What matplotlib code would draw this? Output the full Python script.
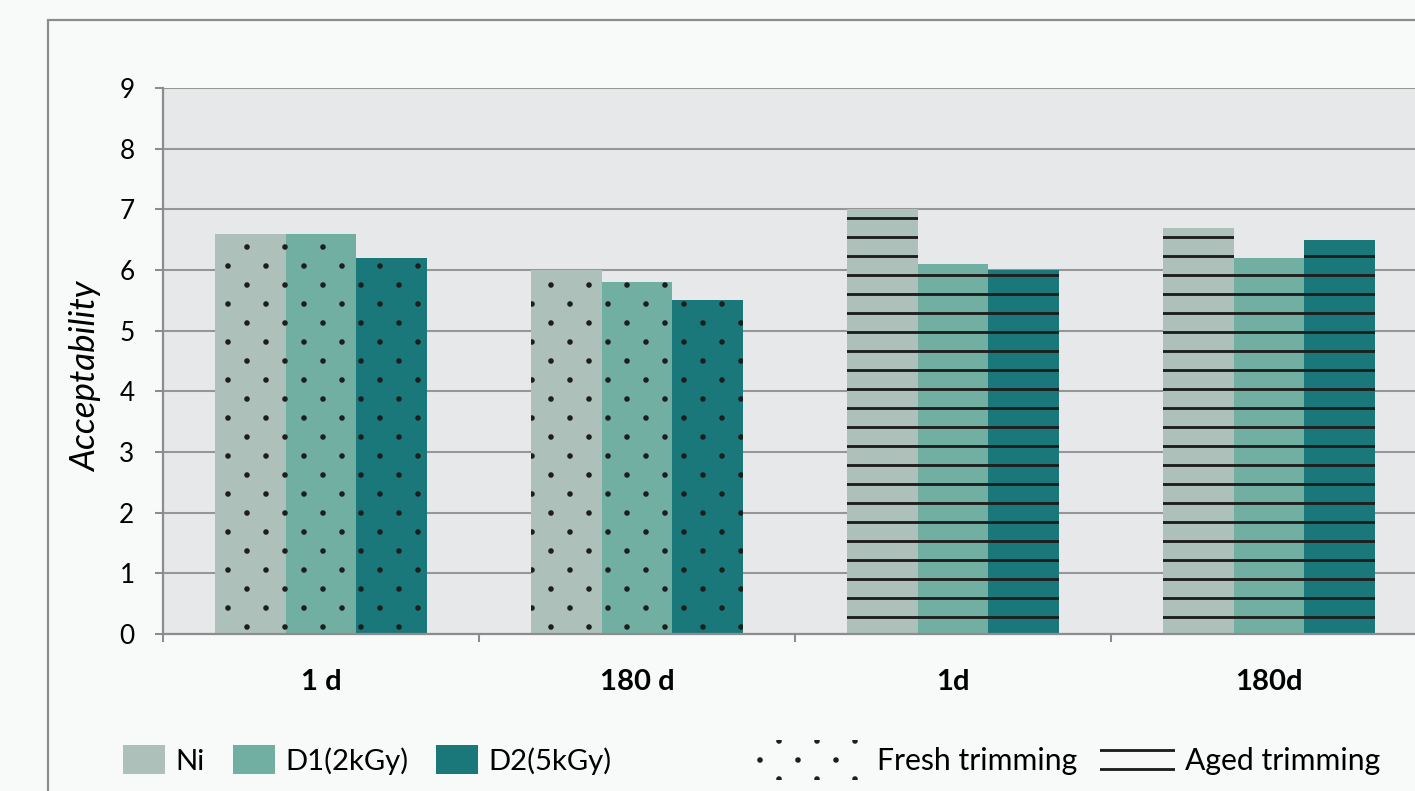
import matplotlib
matplotlib.use("Agg")
import matplotlib.pyplot as plt
import matplotlib.patches as mpatches
import matplotlib.hatch as mhatch
from matplotlib.path import Path
import numpy as np

# ---- data ----
categories = ["1 d", "180 d", "1d", "180d"]
series_names = ["Ni", "D1(2kGy)", "D2(5kGy)"]
ni_values = [6.6, 6.0, 7.0, 6.7]
d1_values = [6.6, 5.8, 6.1, 6.2]
d2_values = [6.2, 5.5, 6.0, 6.5]
trimming = ["Fresh trimming", "Fresh trimming", "Aged trimming", "Aged trimming"]
trimming_names = ["Fresh trimming", "Aged trimming"]
y_ticks = [0, 1, 2, 3, 4, 5, 6, 7, 8, 9]


# sparse staggered dot texture for '.' (wider horizontal spacing than default)
class SparseDots(mhatch.HatchPatternBase):
    size = 0.07

    def __init__(self, hatch, density):
        self.n = hatch.count('.') * density
        self.centers = []
        if self.n:
            n = self.n
            for r in range(n + 1):
                yy = r / n
                if r % 2 == 0:
                    xs = np.arange(0, 1 + 1e-9, 2 / n)
                else:
                    xs = np.arange(1 / n, 1 - 1e-9, 2 / n)
                self.centers += [(xx, yy) for xx in xs]
            circ = Path.unit_circle()
            self.shape_vertices = circ.vertices
            self.shape_codes = circ.codes
            self.num_vertices = len(self.centers) * len(self.shape_vertices)
        else:
            self.num_vertices = 0

    def set_vertices_and_codes(self, vertices, codes):
        sv = self.shape_vertices * (1.0 / self.n) * self.size
        vparts = [sv + np.array(c) for c in self.centers]
        cparts = [self.shape_codes for _ in self.centers]
        np.concatenate(vparts, out=vertices)
        np.concatenate(cparts, out=codes)


mhatch._hatch_types[:] = [SparseDots if t is mhatch.SmallFilledCircles else t
                          for t in mhatch._hatch_types]

# ---- style ----
W, H, DPI = 1415, 791, 114
plt.rcParams['font.family'] = ['Lato', 'DejaVu Sans']
plt.rcParams['hatch.linewidth'] = 1.8
colors = ["#AEC0BA", "#72AFA3", "#1B787A"]
hatch_map = {"Fresh trimming": ".", "Aged trimming": "-"}
grey = "#8C8C8C"
ink = "#1E1E1E"

fig = plt.figure(figsize=(W / DPI, H / DPI), dpi=DPI, facecolor="#F8FAFA")

# outer chart frame (extends beyond the image on right/bottom)
frame = mpatches.Rectangle((48 / W, -0.2), 2.0, (1 - 20 / H) + 0.2,
                           transform=fig.transFigure, fill=False,
                           edgecolor=grey, linewidth=1.4, zorder=0)
fig.patches.append(frame)

left = 163 / W
bottom = 1 - 634 / H
top = 1 - 88 / H
width = (1427 - 163) / W
ax = fig.add_axes([left, bottom, width, top - bottom])
ax.set_facecolor("#E7E8EA")

x = np.arange(len(categories))
bw = 0.2237
all_vals = [ni_values, d1_values, d2_values]
for i, (vals, c, name) in enumerate(zip(all_vals, colors, series_names)):
    for j, v in enumerate(vals):
        ax.bar(x[j] + (i - 1) * bw, v, width=bw, color=c,
               edgecolor=ink, linewidth=0, hatch=hatch_map[trimming[j]],
               zorder=3)

ax.set_xlim(-0.5, len(categories) - 0.5)
ax.set_ylim(0, 9)
ax.set_yticks(y_ticks)
ax.yaxis.grid(True, color="#969696", linewidth=1.3, zorder=1)
ax.set_axisbelow(True)

for s in ["top", "right"]:
    ax.spines[s].set_visible(False)
for s in ["left", "bottom"]:
    ax.spines[s].set_color(grey)
    ax.spines[s].set_linewidth(1.4)
    ax.spines[s].set_zorder(4)

ax.tick_params(axis="y", which="major", length=5, width=1.3, color=grey,
               labelsize=16.5, pad=13, labelcolor="black")
ax.set_xticks(np.arange(-0.5, len(categories) + 0.5, 1.0))
ax.set_xticklabels([])
ax.set_xticks(x, minor=True)
ax.set_xticklabels(categories, minor=True, fontweight="bold", fontsize=18.5)
ax.tick_params(axis="x", which="major", length=5, width=1.3, color=grey)
ax.tick_params(axis="x", which="minor", length=0, pad=22)

ax.set_ylabel("Acceptability", fontstyle="italic", fontsize=22)
ax.yaxis.set_label_coords(-0.048, 0.472)

# ---- legends ----
leg_y = 1 - 760 / H
h1 = [mpatches.Patch(facecolor=c, edgecolor="none", label=n)
      for c, n in zip(colors, series_names)]
fig.legend(handles=h1, loc="center left", bbox_to_anchor=(123 / W, leg_y),
           ncol=3, frameon=False, fontsize=18.5, borderpad=0, borderaxespad=0,
           handlelength=1.45, handleheight=1.15, handletextpad=0.34,
           columnspacing=0.95)

fresh = mpatches.Patch(facecolor="none", edgecolor=ink, linewidth=0,
                       hatch=hatch_map[trimming_names[0]], label=trimming_names[0])
aged = mpatches.Patch(facecolor="none", edgecolor=ink, linewidth=0,
                      hatch=hatch_map[trimming_names[1]], label=trimming_names[1])
fig.legend(handles=[fresh], loc="center left", bbox_to_anchor=(747 / W, leg_y),
           frameon=False, fontsize=19, borderpad=0, borderaxespad=0,
           handlelength=4.0, handleheight=1.65, handletextpad=0.33)
fig.legend(handles=[aged], loc="center left", bbox_to_anchor=(1100 / W, leg_y),
           frameon=False, fontsize=19, borderpad=0, borderaxespad=0,
           handlelength=2.5, handleheight=1.05, handletextpad=0.33)

fig.savefig("out.png", dpi=DPI, facecolor=fig.get_facecolor())
